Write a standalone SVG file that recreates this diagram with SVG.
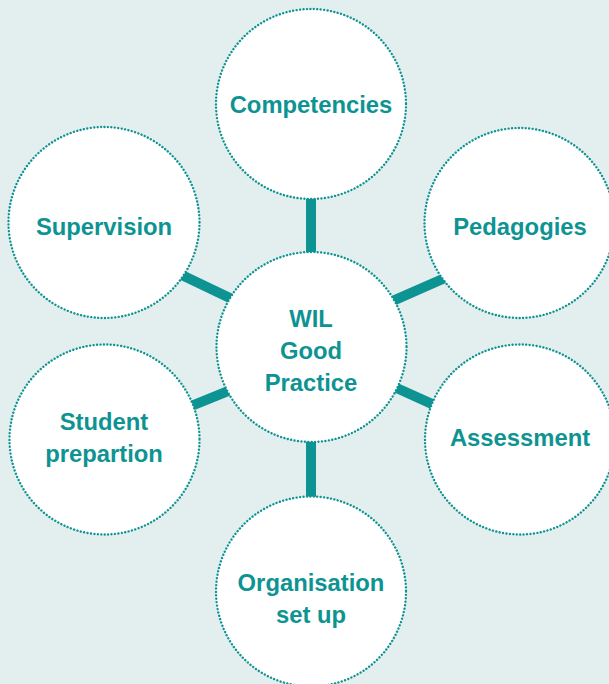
<svg xmlns="http://www.w3.org/2000/svg" width="609" height="684" viewBox="0 0 609 684">
<style>
.bg{fill:#e2efee}
.conn line{stroke:#0e9393;stroke-width:10;stroke-linecap:butt}
.node circle{fill:#ffffff;stroke:#0e9393;stroke-width:2.4;stroke-dasharray:0.01 3.45;stroke-linecap:round}
.node text{font-family:"Liberation Sans",Arial,Helvetica,sans-serif;font-weight:bold;font-size:23.8px;fill:#0e9393;text-anchor:middle}
</style>
<rect class="bg" x="0" y="0" width="609" height="684"/>
<g id="connectors" class="conn">
<line x1="311" y1="195" x2="311" y2="256"/>
<line x1="311" y1="438" x2="311" y2="501"/>
<line x1="176" y1="272.3" x2="237.2" y2="301.4"/>
<line x1="386" y1="303.9" x2="450.6" y2="275.5"/>
<line x1="185.3" y1="408.3" x2="234.1" y2="388.7"/>
<line x1="389.4" y1="384.7" x2="440" y2="407.6"/>
</g>
<g id="center" class="node">
<circle cx="311.5" cy="347" r="95"/>
<text x="311" y="327.3">WIL</text>
<text x="311" y="359">Good</text>
<text x="311" y="390.7">Practice</text>
</g>
<g id="competencies" class="node">
<circle cx="311" cy="104" r="95"/>
<text x="311" y="112.7">Competencies</text>
</g>
<g id="supervision" class="node">
<circle cx="104" cy="222.5" r="95.5"/>
<text x="104" y="235">Supervision</text>
</g>
<g id="pedagogies" class="node">
<circle cx="519.5" cy="223" r="95"/>
<text x="520" y="235">Pedagogies</text>
</g>
<g id="student" class="node">
<circle cx="104.5" cy="439.5" r="95"/>
<text x="104" y="430">Student</text>
<text x="104" y="461.7">prepartion</text>
</g>
<g id="assessment" class="node">
<circle cx="520" cy="439.5" r="95"/>
<text x="520" y="445.7">Assessment</text>
</g>
<g id="organisation" class="node">
<circle cx="311" cy="591.5" r="95"/>
<text x="311" y="590.7">Organisation</text>
<text x="311" y="622.7">set up</text>
</g>
</svg>
